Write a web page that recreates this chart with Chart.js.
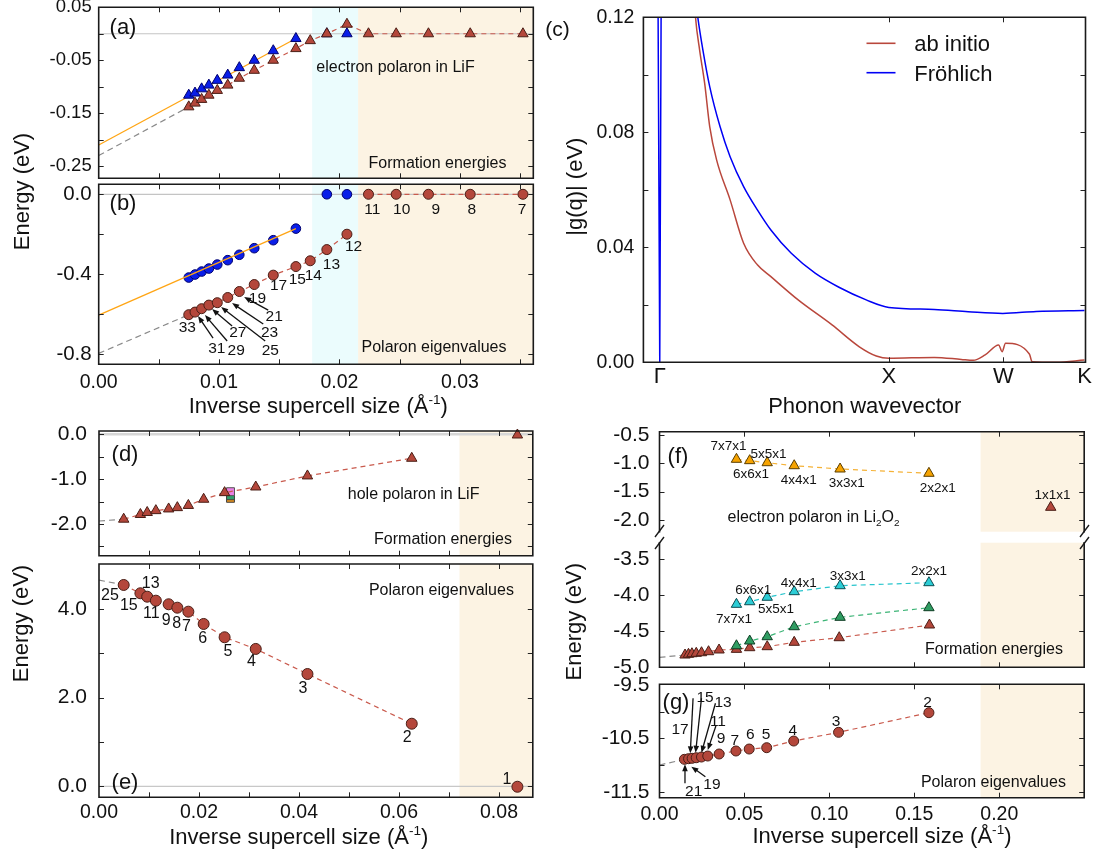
<!DOCTYPE html>
<html><head><meta charset="utf-8">
<script src="https://cdn.jsdelivr.net/npm/chart.js@4.4.1/dist/chart.umd.min.js"></script>
<style>
html,body{margin:0;padding:0;background:#fff;}
#wrap{position:relative;width:1094px;height:855px;overflow:hidden;background:#fff;}
#wrap canvas{position:absolute;left:0;top:0;}
</style></head><body><div id="wrap"></div>
<script>
// ================= DATA =================
// (a)/(b) electron polaron in LiF ; supercell sizes n
const ab_supercell = ['33','31','29','27','25','23','21','19','17','15','14','13','12','11','10','9','8','7'];
const ab_invSize = [0.00748,0.00800,0.00855,0.00915,0.00985,0.01072,0.01168,0.01292,0.01450,0.01638,0.01757,0.01895,0.02062,0.02241,0.02471,0.02739,0.03086,0.03524];
const a_formAbInitio = [-0.138,-0.131,-0.124,-0.116,-0.107,-0.097,-0.084,-0.069,-0.050,-0.028,-0.013,0.000,0.018,0,0,0,0,0];
const ab_frohInvSize = [0.00748,0.00800,0.00855,0.00915,0.00985,0.01072,0.01168,0.01292,0.01450,0.01638,0.01895,0.02062];
const a_formFrohlich = [-0.116,-0.112,-0.104,-0.097,-0.088,-0.078,-0.064,-0.050,-0.032,-0.009,0,0];
const b_eigAbInitio = [-0.603,-0.590,-0.573,-0.555,-0.543,-0.517,-0.487,-0.452,-0.405,-0.362,-0.333,-0.277,-0.200,0,0,0,0,0];
const b_eigFrohlich = [-0.417,-0.402,-0.387,-0.372,-0.352,-0.330,-0.303,-0.270,-0.230,-0.172,0,0];
const ab_fitX = [0, 0.01638];
const a_fitFrohlich = [-0.210, -0.009];
const b_fitFrohlich = [-0.605, -0.172];
const ab_extrapX = [0, 0.00748];
const a_extrapAbInitio = [-0.230, -0.138];
const b_extrapAbInitio = [-0.797, -0.603];
const ab_cyanRange = [0.01773, 0.02155];
const ab_beigeRange = [0.02155, 0.05];
const b_labelText = ['33','31','29','27','25','23','21','19','17','15','14','13','12','11','10','9','8','7'];
const b_labelX = [0.00736,0.00981,0.01142,0.01156,0.01425,0.01419,0.01458,0.01319,0.01494,0.01650,0.01783,0.01933,0.02117,0.02273,0.02517,0.02800,0.03100,0.03517];
const b_labelY = [-0.6635,-0.7665,-0.775,-0.6885,-0.775,-0.685,-0.6085,-0.5165,-0.45,-0.42,-0.40,-0.345,-0.2585,-0.07,-0.07,-0.07,-0.07,-0.07];
const b_arrowTailX = [0.0095,0.01067,0.01108,0.01383,0.01367,0.01408];
const b_arrowTailY = [-0.72,-0.735,-0.66,-0.735,-0.65,-0.58];
const b_arrowHeadX = [0.00825,0.00883,0.00942,0.01017,0.01108,0.01208];
const b_arrowHeadY = [-0.61,-0.605,-0.575,-0.565,-0.545,-0.515];

// (c) |g(q)| along Gamma-X-W-K
const c_tickPos = [0, 1, 1.5, 1.8536];
const c_tickLabels = ['Γ','X','W','K'];
const c_qSpike = [-0.0078, 0, 0.0063];
const c_gSpike = [0.13, 0, 0.13];
const c_qFrohlich = [0.155,0.166,0.1883,0.218,0.263,0.307,0.366,0.426,0.485,0.574,0.678,0.782,0.901,1.0,1.198,1.346,1.497,1.643,1.8536];
const c_gFrohlich = [0.127,0.1200,0.1086,0.0959,0.0820,0.0715,0.0611,0.0530,0.0460,0.0379,0.0310,0.0261,0.0217,0.0191,0.0184,0.0176,0.0170,0.0177,0.0180];
const c_qAbInitio = [0.150,0.156,0.174,0.196,0.218,0.248,0.307,0.366,0.426,0.485,0.604,0.752,0.871,0.945,1.0,1.198,1.316,1.368,1.420,1.479,1.494,1.509,1.613,1.625,1.731,1.8536];
const c_gAbInitio = [0.128,0.120,0.1086,0.0970,0.0820,0.0704,0.0565,0.0414,0.0339,0.0298,0.0217,0.0130,0.0054,0.0022,0.0014,0.0017,0.0010,0.0007,0.0026,0.0060,0.0037,0.0066,0.0029,0.0002,0.0000,0.0008];

// (d)/(e) hole polaron in LiF
const de_invSize = [0.00494,0.00828,0.00964,0.01137,0.01393,0.01567,0.01787,0.02093,0.02512,0.03135,0.04169,0.06255,0.08368];
const d_formation = [-1.895,-1.790,-1.745,-1.704,-1.666,-1.637,-1.588,-1.450,-1.302,-1.176,-0.929,-0.535,-0.015];
const d_extrapX = [0, 0.00494];
const d_extrapY = [-1.935, -1.895];
const d_altX = [0.0263];
const d_altPink = [-1.281];
const d_altGreen = [-1.371];
const d_altOrange = [-1.429];
const e_eigen = [4.539,4.352,4.275,4.185,4.104,4.027,3.937,3.660,3.360,3.097,2.532,1.411,-0.010];
const e_extrapY = [4.65, 4.539];
const de_beigeRange = [0.0721, 0.1];
const e_labelText = ['25','15','13','11','9','8','7','6','5','4','3','2','1'];
const e_labelX = [0.0022,0.00596,0.01034,0.01048,0.01346,0.01556,0.0175,0.02076,0.02578,0.0305,0.04078,0.06164,0.0816];
const e_labelY = [4.320,4.111,4.598,3.924,3.773,3.698,3.621,3.360,3.058,2.833,2.234,1.121,0.181];

// (f)/(g) electron polaron in Li2O2
const f_cells = ['7x7x1','6x6x1','5x5x1','4x4x1','3x3x1','2x2x1'];
const f_invSize = [0.0453,0.0531,0.0634,0.0793,0.1063,0.1586];
const f_orange = [-0.929,-0.953,-0.989,-1.042,-1.100,-1.176];
const f_primX = [0.2303];
const f_primY = [-1.776];
const f_cyan = [-4.131,-4.095,-4.033,-3.955,-3.872,-3.830];
const f_green = [-4.708,-4.642,-4.582,-4.443,-4.312,-4.178];
const f_brownX = [0.01503,0.01707,0.0191,0.02164,0.02474,0.02888,0.03506,0.0453,0.0531,0.0634,0.0793,0.1058,0.1589];
const f_brown = [-4.837,-4.827,-4.819,-4.813,-4.805,-4.791,-4.767,-4.758,-4.735,-4.721,-4.660,-4.596,-4.419];
const f_extrapX = [0, 0.01503];
const f_extrapY = [-4.869, -4.837];
const fg_beigeRange = [0.189, 0.3];
const f1_labelText = ['7x7x1','5x5x1','6x6x1','4x4x1','3x3x1','2x2x1','1x1x1'];
const f1_labelX = [0.0406,0.0641,0.0538,0.0820,0.1102,0.1638,0.2313];
const f1_labelY = [-0.676,-0.812,-1.176,-1.276,-1.324,-1.412,-1.546];
const f2_labelText = ['2x2x1','3x3x1','4x4x1','6x6x1','5x5x1','7x7x1'];
const f2_labelX = [0.1586,0.1108,0.0820,0.0552,0.0686,0.0439];
const f2_labelY = [-3.653,-3.723,-3.825,-3.918,-4.178,-4.326];
const g_invSize = [0.01466,0.0171,0.0192,0.0216,0.0247,0.0284,0.0351,0.0450,0.0528,0.0631,0.0790,0.1054,0.1586];
const g_eigen = [-10.893,-10.881,-10.874,-10.863,-10.850,-10.831,-10.793,-10.737,-10.700,-10.675,-10.550,-10.387,-10.019];
const g_extrapX = [0, 0.01466];
const g_extrapY = [-11.0, -10.893];
const g_labelText = ['2','3','4','5','6','7','9','11','13','15','17','19','21'];
const g_labelX = [0.1578,0.1040,0.0785,0.0628,0.0535,0.0443,0.0362,0.0344,0.0374,0.0268,0.0121,0.0309,0.0201];
const g_labelY = [-9.813,-10.156,-10.325,-10.405,-10.405,-10.518,-10.49,-10.156,-9.813,-9.715,-10.306,-11.343,-11.468];
const g_arrowTailX = [0.01976,0.02471,0.03294,0.03318,0.015,0.027];
const g_arrowTailY = [-9.749,-9.749,-9.843,-10.269,-11.343,-11.219];
const g_arrowHeadX = [0.01812,0.02124,0.02471,0.02841,0.015,0.01876];
const g_arrowHeadY = [-10.780,-10.769,-10.769,-10.718,-10.986,-11.031];

// ================= STYLE / HELPERS =================
const FONT = "'Liberation Sans', Arial, Helvetica, sans-serif";
Chart.defaults.font.family = FONT;
Chart.defaults.color = '#111';
const BROWN = '#b4473b', BROWN_EDGE = '#4a1e16', BROWN_LINE = '#c95a4d';
const BLUE = '#0a1ee8', BLUE_EDGE = '#00006e';
const ORANGE = '#ffa514', GRAY = '#8a8a8a';
const BEIGE = '#fcf3e3', CYANBG = '#ebfcfd';

function pts(xs, ys){ return xs.map((x,i)=>({x:x, y:ys[i]})); }
function near(v, s){ return Math.abs(v/s - Math.round(v/s)) < 1e-6; }
function fmt(v, d){ return (Math.abs(v) < 1e-9 ? 0 : v).toFixed(d); }
function markers(xs, ys, style, r, fill, edge, order){
  return {data: pts(xs,ys), pointStyle: style, pointRadius: r, pointHoverRadius: r, pointBackgroundColor: fill,
    pointBorderColor: edge, pointBorderWidth: 1, showLine: false, clip: false, order: order};
}
function line(xs, ys, color, width, dash, order, extra){
  return Object.assign({data: pts(xs,ys), showLine: true, pointRadius: 0, pointHoverRadius: 0, borderColor: color,
    borderWidth: width, borderDash: dash || [], fill: false, order: order}, extra || {});
}
function labels(texts, xs, ys, size){ return texts.map((t,i)=>({t:t, x:xs[i], y:ys[i], data:true, size:size})); }
function arrows(tx, ty, hx, hy){ return tx.map((x,i)=>({x1:x, y1:ty[i], x2:hx[i], y2:hy[i]})); }

function drawRich(ctx, segs, x, y, size, align, rot, color){
  ctx.save();
  ctx.fillStyle = color || '#111';
  ctx.textBaseline = 'alphabetic'; ctx.textAlign = 'left';
  const parts = segs.map(s => {
    const fs = (s.sub || s.sup) ? size*0.62 : size;
    ctx.font = fs + 'px ' + FONT;
    return {t:s.t, fs:fs, w:ctx.measureText(s.t).width, dy: s.sub ? size*0.22 : (s.sup ? -size*0.42 : 0)};
  });
  const W = parts.reduce((a,p)=>a+p.w, 0);
  ctx.translate(x, y);
  if (rot) ctx.rotate(-Math.PI/2);
  let cx = align === 'left' ? 0 : (align === 'right' ? -W : -W/2);
  const base = size*0.36;
  for (const p of parts){ ctx.font = p.fs + 'px ' + FONT; ctx.fillText(p.t, cx, base + p.dy); cx += p.w; }
  ctx.restore();
}
function drawArrow(ctx, x1, y1, x2, y2){
  const a = Math.atan2(y2-y1, x2-x1), L = 7, Wd = 2.8;
  ctx.beginPath(); ctx.moveTo(x1,y1); ctx.lineTo(x2 - Math.cos(a)*L*0.7, y2 - Math.sin(a)*L*0.7); ctx.stroke();
  ctx.beginPath(); ctx.moveTo(x2,y2);
  ctx.lineTo(x2 - L*Math.cos(a) + Wd*Math.sin(a), y2 - L*Math.sin(a) - Wd*Math.cos(a));
  ctx.lineTo(x2 - L*Math.cos(a) - Wd*Math.sin(a), y2 - L*Math.sin(a) + Wd*Math.cos(a));
  ctx.closePath(); ctx.fill();
}

const decoPlugin = {
  id: 'deco',
  beforeDatasetsDraw(chart){
    const d = chart.canvas._deco; if (!d) return;
    const ctx = chart.ctx, a = chart.chartArea, X = chart.scales.x, Y = chart.scales.y;
    ctx.save();
    for (const b of (d.bands || [])){
      const x1 = Math.max(a.left, X.getPixelForValue(b.from)), x2 = Math.min(a.right, X.getPixelForValue(b.to));
      ctx.fillStyle = b.color; ctx.fillRect(x1, a.top, x2 - x1, a.bottom - a.top);
    }
    for (const h of (d.hlines || [])){
      const py = Y.getPixelForValue(h.y);
      ctx.strokeStyle = h.color; ctx.lineWidth = h.width;
      ctx.beginPath(); ctx.moveTo(a.left, py); ctx.lineTo(a.right, py); ctx.stroke();
    }
    ctx.restore();
  },
  afterDatasetsDraw(chart){
    const d = chart.canvas._deco; if (!d) return;
    const ctx = chart.ctx, a = chart.chartArea, X = chart.scales.x, Y = chart.scales.y;
    const sides = d.sides || {top:true, bottom:true, left:true, right:true};
    ctx.save();
    ctx.strokeStyle = '#222'; ctx.lineWidth = 1; const TL = 5;
    ctx.beginPath();
    const xv = d.xTickValues || X.ticks.map(t=>t.value);
    for (const v of xv){
      const px = Math.round(X.getPixelForValue(v)) + 0.5;
      if (px < a.left + 2 || px > a.right - 2) continue;
      if (sides.top){ ctx.moveTo(px, a.top); ctx.lineTo(px, a.top + TL); }
      if (sides.bottom){ ctx.moveTo(px, a.bottom); ctx.lineTo(px, a.bottom - TL); }
    }
    for (const t of Y.ticks){
      const py = Math.round(Y.getPixelForValue(t.value)) + 0.5;
      if (py < a.top + 2 || py > a.bottom - 2) continue;
      ctx.moveTo(a.left, py); ctx.lineTo(a.left + TL, py);
      ctx.moveTo(a.right, py); ctx.lineTo(a.right - TL, py);
    }
    ctx.stroke();
    ctx.strokeStyle = '#1a1a1a'; ctx.lineWidth = 1.6; ctx.lineCap = 'square';
    ctx.beginPath();
    if (sides.top){ ctx.moveTo(a.left, a.top); ctx.lineTo(a.right, a.top); }
    if (sides.bottom){ ctx.moveTo(a.left, a.bottom); ctx.lineTo(a.right, a.bottom); }
    if (sides.left){ ctx.moveTo(a.left, a.top); ctx.lineTo(a.left, a.bottom); }
    if (sides.right){ ctx.moveTo(a.right, a.top); ctx.lineTo(a.right, a.bottom); }
    ctx.stroke();
    ctx.lineCap = 'butt';
    if (d.breaks){
      ctx.lineWidth = 1.4; ctx.beginPath();
      for (const b of d.breaks){ ctx.moveTo(b[0], b[1]); ctx.lineTo(b[2], b[3]); }
      ctx.stroke();
    }
    for (const l of (d.legend || [])){
      ctx.strokeStyle = l.color; ctx.lineWidth = 1.6;
      ctx.beginPath(); ctx.moveTo(l.x1, l.y); ctx.lineTo(l.x2, l.y); ctx.stroke();
      drawRich(ctx, [{t:l.text}], l.tx, l.y, l.size, 'left', false);
    }
    for (const t of (d.texts || [])){
      let px = t.x, py = t.y;
      if (t.data){ px = X.getPixelForValue(t.x); py = Y.getPixelForValue(t.y); }
      drawRich(ctx, t.segs || [{t:t.t}], px, py, t.size || 16, t.align || 'center', t.rot, t.color);
    }
    ctx.strokeStyle = '#111'; ctx.fillStyle = '#111'; ctx.lineWidth = 1.3;
    for (const ar of (d.arrows || [])){
      drawArrow(ctx, X.getPixelForValue(ar.x1), Y.getPixelForValue(ar.y1), X.getPixelForValue(ar.x2), Y.getPixelForValue(ar.y2));
    }
    ctx.restore();
  }
};

function makePanel(o){
  const cv = document.createElement('canvas');
  cv.width = 1094; cv.height = 855;
  cv.style.width = '1094px'; cv.style.height = '855px';
  document.getElementById('wrap').appendChild(cv);
  cv._deco = o.deco;
  const R = o.rect, YW = 90, XH = o.xh || 0;
  const zeroPad = s => { s.paddingLeft = 0; s.paddingRight = 0; s.paddingTop = 0; s.paddingBottom = 0; };
  const xScale = Object.assign({
    type: 'linear', position: 'bottom', min: o.x.min, max: o.x.max,
    grid: {display:false, drawTicks:false}, border: {display:false},
    ticks: {stepSize: o.x.step, includeBounds: false, autoSkip: false, maxRotation: 0, minRotation: 0,
      padding: o.x.pad || 0, font: {size: o.x.size || 19.5}, color: '#111', callback: o.x.cb},
    afterFit: s => { s.height = XH; zeroPad(s); }
  }, o.x.extra || {});
  return new Chart(cv, {
    type: 'scatter',
    data: {datasets: o.datasets},
    options: {
      responsive: false, animation: false, devicePixelRatio: 1, events: [],
      layout: {padding: {left: R.l - YW, top: R.t, right: 1094 - R.r, bottom: 855 - R.b - XH}},
      plugins: {legend: {display:false}, tooltip: {enabled:false}},
      scales: {
        x: xScale,
        y: {type: 'linear', position: 'left', min: o.y.min, max: o.y.max,
          grid: {display:false, drawTicks:false}, border: {display:false},
          ticks: {stepSize: o.y.step, includeBounds: false, autoSkip: false, padding: o.y.pad,
            font: {size: o.y.size}, color: '#111', callback: o.y.cb},
          afterFit: s => { s.width = YW; zeroPad(s); }}
      }
    },
    plugins: [decoPlugin]
  });
}

const XTITLE = [{t:'Inverse supercell size (Å'},{t:'-1', sup:true},{t:')'}];

// ================= (a) =================
makePanel({
  rect: {l:98.7, t:7.3, r:533.3, b:178.3}, xh: 0,
  x: {min:0, max:0.0361, step:0.005, cb: () => ''},
  y: {min:-0.273, max:0.05, step:0.05, pad:7, size:18.5, cb: v => near(v,0.1) ? '' : fmt(v,2)},
  datasets: [
    markers(ab_invSize, a_formAbInitio, 'triangle', 6, BROWN, BROWN_EDGE, 0),
    markers(ab_frohInvSize, a_formFrohlich, 'triangle', 6, BLUE, BLUE_EDGE, 1),
    line(ab_fitX, a_fitFrohlich, ORANGE, 1.3, [], 2),
    line(ab_invSize, a_formAbInitio, BROWN_LINE, 1.2, [5,4], 3),
    line(ab_extrapX, a_extrapAbInitio, GRAY, 1.2, [6,4], 4)
  ],
  deco: {
    bands: [{from:ab_cyanRange[0], to:ab_cyanRange[1], color:CYANBG},{from:ab_beigeRange[0], to:ab_beigeRange[1], color:BEIGE}],
    hlines: [{y:0, color:'#c4c4c4', width:1.2}],
    texts: [
      {t:'(a)', x:123, y:26, size:22},
      {t:'electron polaron in LiF', x:395.5, y:66.7, size:16},
      {t:'Formation energies', x:437.5, y:162.7, size:16}
    ]
  }
});

// ================= (b) =================
makePanel({
  rect: {l:98.7, t:184.3, r:533.3, b:364.3}, xh: 50,
  x: {min:0, max:0.0361, step:0.005, pad:7, size:19.5, cb: v => near(v,0.01) ? fmt(v,2) : ''},
  y: {min:-0.8515, max:0.05, step:0.2, pad:7, size:20.5, cb: v => near(v,0.4) ? fmt(v,1) : ''},
  datasets: [
    markers(ab_invSize, b_eigAbInitio, 'circle', 5, BROWN, BROWN_EDGE, 0),
    line(ab_fitX, b_fitFrohlich, ORANGE, 1.3, [], 1),
    markers(ab_frohInvSize, b_eigFrohlich, 'circle', 4.8, BLUE, BLUE_EDGE, 2),
    line(ab_invSize.slice(0,13), b_eigAbInitio.slice(0,13), BROWN_LINE, 1.2, [5,4], 3),
    line(ab_invSize.slice(13), b_eigAbInitio.slice(13), BROWN_LINE, 1.2, [5,4], 3),
    line(ab_extrapX, b_extrapAbInitio, GRAY, 1.2, [6,4], 4)
  ],
  deco: {
    bands: [{from:ab_cyanRange[0], to:ab_cyanRange[1], color:CYANBG},{from:ab_beigeRange[0], to:ab_beigeRange[1], color:BEIGE}],
    hlines: [{y:0, color:'#c4c4c4', width:1.2}],
    texts: [
      {t:'(b)', x:123, y:202, size:22},
      {t:'Polaron eigenvalues', x:434, y:346.7, size:16},
      {t:'Energy (eV)', x:21, y:191.5, size:22, rot:true},
      {segs:XTITLE, x:318.3, y:405, size:22}
    ].concat(labels(b_labelText, b_labelX, b_labelY, 15.5)),
    arrows: arrows(b_arrowTailX, b_arrowTailY, b_arrowHeadX, b_arrowHeadY)
  }
});

// ================= (c) =================
makePanel({
  rect: {l:643.4, t:17.3, r:1085.5, b:362.3}, xh: 50,
  x: {min:-0.0714, max:1.858, pad:1, size:22, cb: (v,i) => (c_tickLabels[i] || ''),
      extra: {afterBuildTicks: s => { s.ticks = c_tickPos.map(v => ({value:v})); }}},
  y: {min:0, max:0.12, step:0.02, pad:9, size:19.5, cb: v => near(v,0.04) ? fmt(v,2) : ''},
  datasets: [
    line(c_qAbInitio, c_gAbInitio, '#b9473c', 1.5, [], 2, {cubicInterpolationMode:'monotone'}),
    line(c_qFrohlich, c_gFrohlich, '#0000f5', 1.5, [], 1, {cubicInterpolationMode:'monotone'}),
    line(c_qSpike, c_gSpike, '#0000f5', 1.5, [], 0)
  ],
  deco: {
    xTickValues: [1, 1.5],
    legend: [
      {text:'ab initio', color:'#b9473c', x1:866.5, x2:895.5, tx:914.2, y:43.3, size:22},
      {text:'Fröhlich', color:'#0000f5', x1:866.5, x2:895.5, tx:914.2, y:72.7, size:22}
    ],
    texts: [
      {t:'(c)', x:557.5, y:28, size:21},
      {t:'|g(q)| (eV)', x:574.5, y:186.7, size:22, rot:true},
      {t:'Phonon wavevector', x:864.8, y:405, size:22}
    ]
  }
});

// ================= (d) =================
makePanel({
  rect: {l:99, t:431, r:532.8, b:555.7}, xh: 0,
  x: {min:0, max:0.08676, step:0.01, cb: () => ''},
  y: {min:-2.71, max:0.074, step:0.5, pad:12, size:21, cb: v => near(v,1) ? fmt(v,1) : ''},
  datasets: [
    markers(de_invSize, d_formation, 'triangle', 6, BROWN, BROWN_EDGE, 0),
    line(de_invSize.slice(0,12), d_formation.slice(0,12), BROWN_LINE, 1.2, [5,4], 1),
    line(d_extrapX, d_extrapY, GRAY, 1.2, [6,4], 2),
    markers(d_altX, d_altPink, 'rect', 5.6, '#ea7fe6', '#555', 3),
    markers(d_altX, d_altGreen, 'rect', 5.6, '#2f9f6c', '#444', 4),
    markers(d_altX, d_altOrange, 'rect', 5.6, '#e5911c', '#444', 5)
  ],
  deco: {
    bands: [{from:de_beigeRange[0], to:de_beigeRange[1], color:BEIGE}],
    hlines: [{y:0, color:'#d6d6d6', width:2.5}],
    texts: [
      {t:'(d)', x:125, y:453, size:22},
      {t:'hole polaron in LiF', x:413.6, y:493.3, size:16},
      {t:'Formation energies', x:443, y:538.3, size:16}
    ]
  }
});

// ================= (e) =================
makePanel({
  rect: {l:99, t:564, r:532.8, b:797.3}, xh: 50,
  x: {min:0, max:0.08676, step:0.01, pad:4, size:19.5, cb: v => near(v,0.02) ? fmt(v,2) : ''},
  y: {min:-0.248, max:5.012, step:1, pad:12, size:21, cb: v => near(v,2) ? fmt(v,1) : ''},
  datasets: [
    markers(de_invSize, e_eigen, 'circle', 5.5, BROWN, BROWN_EDGE, 0),
    line(de_invSize.slice(0,12), e_eigen.slice(0,12), BROWN_LINE, 1.2, [5,4], 1),
    line(d_extrapX, e_extrapY, GRAY, 1.2, [6,4], 2)
  ],
  deco: {
    bands: [{from:de_beigeRange[0], to:de_beigeRange[1], color:BEIGE}],
    hlines: [{y:0, color:'#c8c8c8', width:1.3}],
    texts: [
      {t:'(e)', x:125, y:781, size:22},
      {t:'Polaron eigenvalues', x:441.4, y:589.3, size:16},
      {t:'Energy (eV)', x:20, y:623.5, size:22, rot:true},
      {segs:XTITLE, x:298.8, y:836, size:22}
    ].concat(labels(e_labelText, e_labelX, e_labelY, 16))
  }
});

// ================= (f) upper =================
makePanel({
  rect: {l:659.5, t:431.7, r:1084.2, b:531.7}, xh: 0,
  x: {min:0, max:0.25, step:0.05, cb: () => ''},
  y: {min:-2.206, max:-0.442, step:0.5, pad:10, size:21, cb: v => fmt(v,1)},
  datasets: [
    markers(f_invSize, f_orange, 'triangle', 6, '#f6a300', '#5a3e00', 0),
    markers(f_primX, f_primY, 'triangle', 6, BROWN, BROWN_EDGE, 1),
    line(f_invSize, f_orange, '#f5b237', 1.2, [5,4], 2)
  ],
  deco: {
    sides: {top:true, bottom:false, left:true, right:true},
    bands: [{from:fg_beigeRange[0], to:fg_beigeRange[1], color:BEIGE}],
    texts: [
      {t:'(f)', x:678, y:455, size:22},
      {segs:[{t:'electron polaron in Li'},{t:'2',sub:true},{t:'O'},{t:'2',sub:true}], x:813.5, y:516.7, size:16}
    ].concat(labels(f1_labelText, f1_labelX, f1_labelY, 13.5))
  }
});

// ================= (f) lower =================
makePanel({
  rect: {l:659.5, t:542.7, r:1084.2, b:667.3}, xh: 0,
  x: {min:0, max:0.25, step:0.05, cb: () => ''},
  y: {min:-5.008, max:-3.273, step:0.5, pad:10, size:21, cb: v => fmt(v,1)},
  datasets: [
    markers(f_invSize, f_cyan, 'triangle', 6, '#2ccdd6', '#0d4d52', 0),
    markers(f_invSize, f_green, 'triangle', 6, '#2f9d62', '#0f3d24', 1),
    markers(f_brownX, f_brown, 'triangle', 6, BROWN, BROWN_EDGE, 2),
    line(f_invSize, f_cyan, '#28c5cd', 1.2, [5,4], 3),
    line(f_invSize, f_green, '#3cb476', 1.2, [5,4], 4),
    line(f_brownX, f_brown, BROWN_LINE, 1.2, [5,4], 5),
    line(f_extrapX, f_extrapY, GRAY, 1.2, [6,4], 6)
  ],
  deco: {
    sides: {top:false, bottom:true, left:true, right:true},
    bands: [{from:fg_beigeRange[0], to:fg_beigeRange[1], color:BEIGE}],
    breaks: [[655,537,664,525],[655,549,664,537],[1080,537,1089,525],[1080,549,1089,537]],
    texts: [
      {t:'Formation energies', x:994, y:648.3, size:16}
    ].concat(labels(f2_labelText, f2_labelX, f2_labelY, 13.5))
  }
});

// ================= (g) =================
makePanel({
  rect: {l:659.5, t:684.3, r:1084.2, b:797.7}, xh: 50,
  x: {min:0, max:0.25, step:0.05, pad:5.6, size:19.5, cb: v => v < 0.21 ? fmt(v,2) : ''},
  y: {min:-11.612, max:-9.487, step:0.5, pad:10, size:21, cb: v => near(v,1) ? '' : fmt(v,1)},
  datasets: [
    markers(g_invSize, g_eigen, 'circle', 5, BROWN, BROWN_EDGE, 0),
    line(g_invSize, g_eigen, BROWN_LINE, 1.2, [5,4], 1),
    line(g_extrapX, g_extrapY, GRAY, 1.2, [6,4], 2)
  ],
  deco: {
    bands: [{from:fg_beigeRange[0], to:fg_beigeRange[1], color:BEIGE}],
    texts: [
      {t:'(g)', x:676, y:701, size:22},
      {t:'Polaron eigenvalues', x:993.4, y:781, size:16},
      {t:'Energy (eV)', x:573, y:621.7, size:22, rot:true},
      {segs:XTITLE, x:882, y:835, size:22}
    ].concat(labels(g_labelText, g_labelX, g_labelY, 15.5)),
    arrows: arrows(g_arrowTailX, g_arrowTailY, g_arrowHeadX, g_arrowHeadY)
  }
});
</script></body></html>
